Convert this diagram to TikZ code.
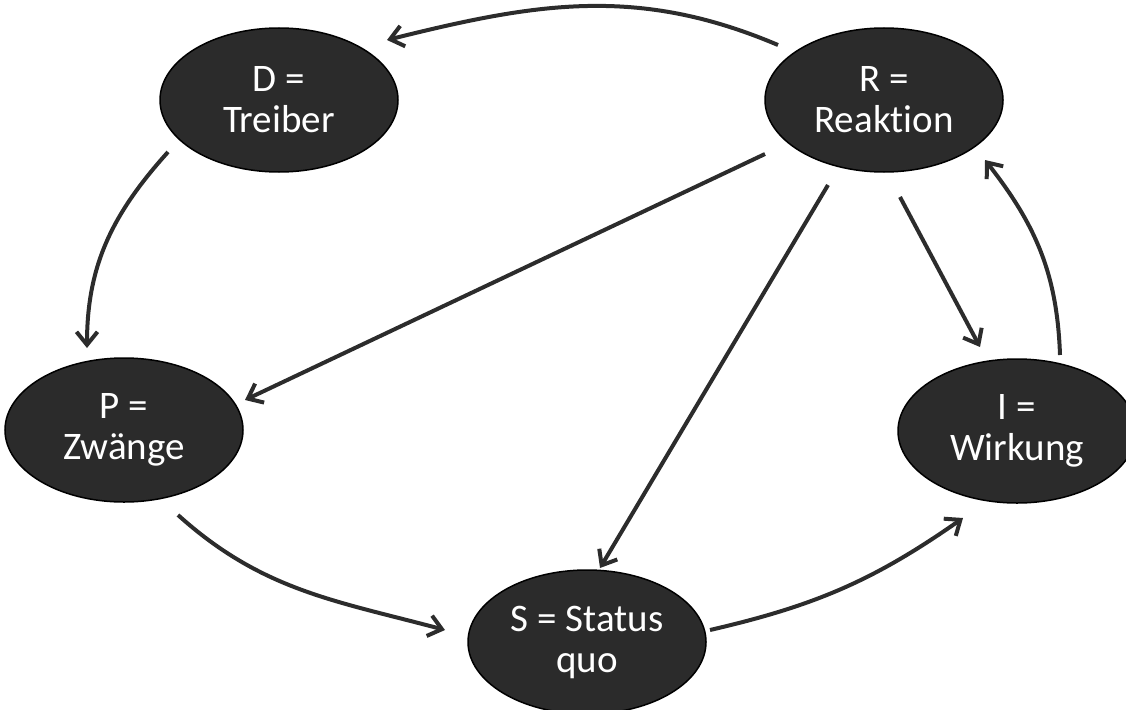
\documentclass[tikz,border=0pt]{standalone}
\usepackage{fontspec}
\setmainfont{Carlito}[Ligatures=NoCommon]
\usetikzlibrary{shapes.geometric,arrows.meta,calc}
\definecolor{bubble}{HTML}{2B2B2B}
\definecolor{link}{HTML}{2C2C2C}
\begin{document}
\begin{tikzpicture}[x=1pt,y=-1pt,
  state/.style={ellipse, draw=black, line width=1.5pt, fill=bubble,
    minimum width=238pt, minimum height=144pt, inner sep=0pt,
    text=white, align=center, font=\fontsize{39}{41}\selectfont},
  flow/.style={draw=link, line width=4pt,
    -{Straight Barb[length=13pt,width=21pt]}}]
\useasboundingbox (0,0) rectangle (1126,709);

% DPSIR states
\node[state] (D) at (279,100) {D =\\Treiber};
\node[state] (R) at (884,100) {R =\\Reaktion};
\node[state] (P) at (124,430) {P =\\Zwänge};
\node[state] (I) at (1017,431) {I =\\Wirkung};
\node[state] (S) at (587,642) {S = Status\\quo};

% links between the states
\draw[flow] ($(R)+(-106,-55)$) to[out=157,in=14] ($(D)+(108,-60)$);
\draw[flow] ($(D)+(-111,52)$) to[out=228,in=90] ($(P)+(-37,-82)$);
\draw[flow] ($(R)+(-119,54)$) -- ($(P)+(121,-30)$);
\draw[flow] ($(R)+(-56,85)$) -- ($(S)+(13,-74)$);
\draw[flow] ($(R)+(16,97)$) -- ($(I)+(-37,-84)$);
\draw[flow] ($(I)+(43,-76)$) to[out=92,in=308] ($(R)+(101,60)$);
\draw[flow] ($(P)+(54,85)$) to[out=318,in=165] ($(S)+(-142,-12)$);
\draw[flow] ($(S)+(123,-12)$) to[out=13,in=215] ($(I)+(-54,87)$);
\end{tikzpicture}
\end{document}
